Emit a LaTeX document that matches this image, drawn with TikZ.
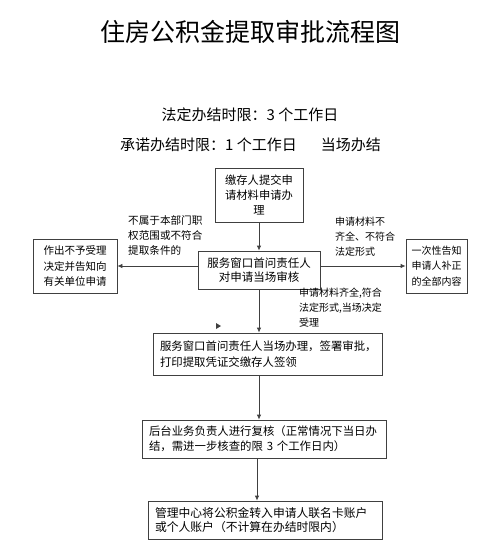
\documentclass[tikz,border=0pt]{standalone}
\usepackage{fontspec}
\setmainfont{Noto Sans CJK SC}
\usetikzlibrary{arrows.meta}

\tikzset{
  box/.style={draw=black!75, line width=0.8pt, align=center, inner sep=0pt,
    font=\fontsize{11.3}{15}\selectfont},
  wbox/.style={draw=black!75, line width=0.8pt, align=left, inner xsep=7pt, inner ysep=0pt,
    font=\fontsize{11.4}{16}\selectfont},
  note/.style={align=left, inner sep=0pt, font=\fontsize{10}{15}\selectfont},
  arr/.style={draw=black!75, line width=0.8pt, -{Latex[length=5pt,width=4.5pt]}},
}

\begin{document}
\begin{tikzpicture}[x=1pt,y=-1pt]
		%%%%% START %%%%%
		\useasboundingbox (0,0) rectangle (500,560);
		
		\node (title) at (250,32) {\fontsize{25}{25}\selectfont 住房公积金提取审批流程图};
		\node (legal) at (250,115) {\fontsize{15}{15}\selectfont 法定办结时限：3 个工作日};
		\node (promise) at (250.5,145) {\fontsize{15}{15}\selectfont 承诺办结时限：1 个工作日\hspace{24pt}当场办结};
		
		\node[box, minimum width=88pt, minimum height=54pt] (submit) at (259,195) {缴存人提交申\\请材料申请办\\理};
		\node[box, minimum width=122pt, minimum height=38pt, font=\fontsize{11.5}{13.5}\selectfont] (check) at (259,270) {服务窗口首问责任人\\对申请当场审核};
		\node[box, minimum width=84pt, minimum height=54pt, font=\fontsize{10.5}{15.5}\selectfont] (reject) at (75,266) {作出不予受理\\决定并告知向\\有关单位申请};
		\node[box, minimum width=61pt, minimum height=54pt, font=\fontsize{10}{15.5}\selectfont] (notify) at (436.5,266) {一次性告知\\申请人补正\\的全部内容};
		
		\node[note, anchor=west, font=\fontsize{10.6}{15}\selectfont] (lbl-reject) at (128,235) {不属于本部门职\\权范围或不符合\\提取条件的};
		\node[note, anchor=west] (lbl-notify) at (335,237) {申请材料不\\齐全、不符合\\法定形式};
		\node[note, anchor=west] (lbl-accept) at (299,308) {申请材料齐全,符合\\法定形式,当场决定\\受理};
		
		\node[wbox, text width=215pt, minimum height=42pt] (handle) at (267.5,354) {服务窗口首问责任人当场办理，签署审批，\\打印提取凭证交缴存人签领};
		\node[wbox, text width=230pt, minimum height=38pt, font=\fontsize{11.4}{15}\selectfont] (review) at (264,439) {后台业务负责人进行复核（正常情况下当日办\\结，需进一步核查的限 3 个工作日内）};
		\node[wbox, text width=220pt, minimum height=38pt, font=\fontsize{11.8}{14.5}\selectfont] (transfer) at (265,520) {管理中心将公积金转入申请人联名卡账户\\或个人账户（不计算在办结时限内）};
		
		\draw[arr] (submit) -- (check);
		\draw[arr] (check.west |- reject.east) -- (reject.east);
		\draw[arr] (check.east |- notify.west) -- (notify.west);
		\draw[arr] (check.south) -- (check.south |- handle.north);
		\draw[arr] (handle.south -| submit.south) -- (review.north -| submit.south);
		\draw[arr] (review.south -| transfer.north) ++(-8,0) coordinate (down) -- (down |- transfer.north);
		
		\fill[black!75] (216,323) -- (221,326) -- (216,329) -- cycle;
		
		%%%%% END %%%%%
\end{tikzpicture}
\end{document}
